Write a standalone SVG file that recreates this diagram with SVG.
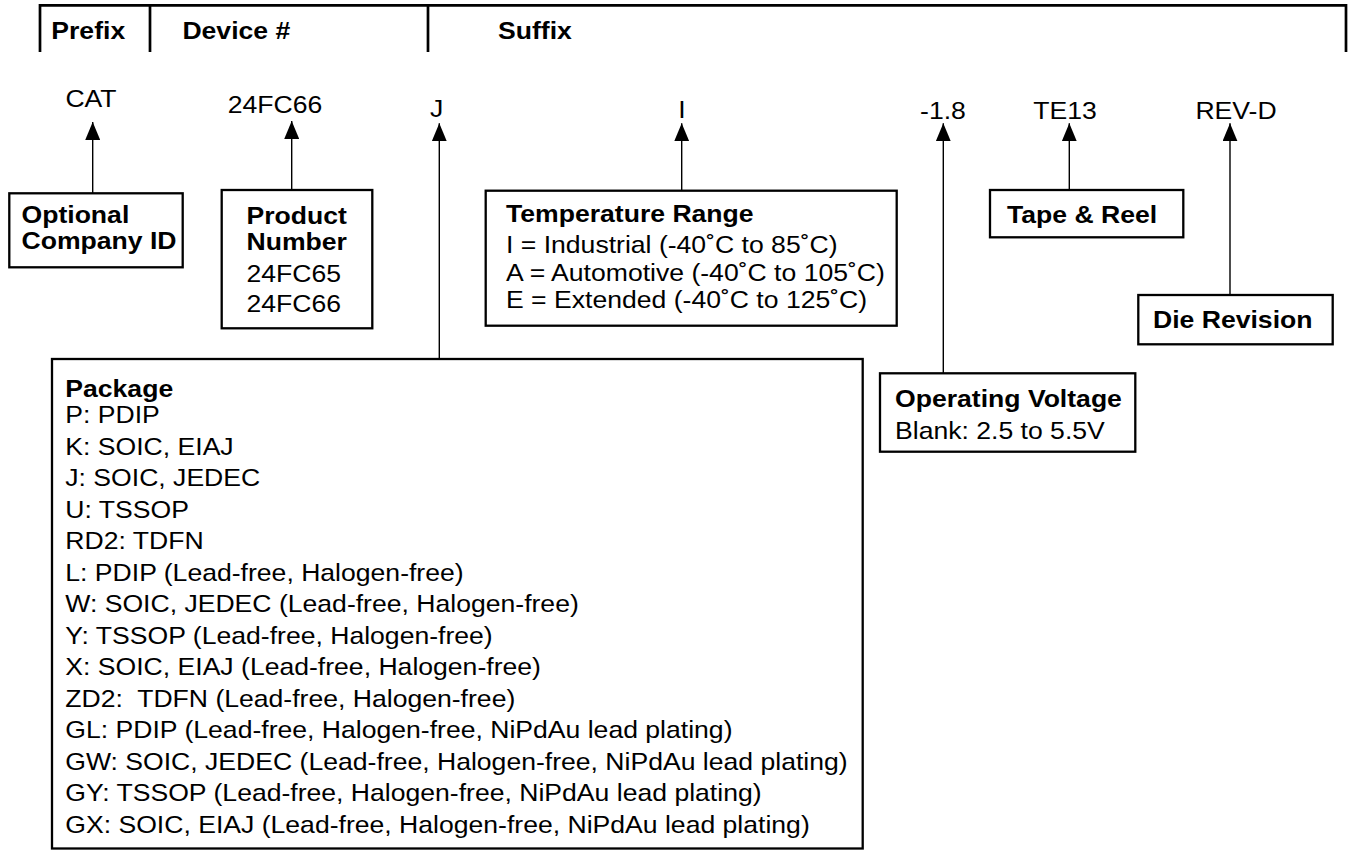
<svg xmlns="http://www.w3.org/2000/svg" width="1351" height="850" viewBox="0 0 1351 850">
<defs>
<style>
.t{font-family:"Liberation Sans",Arial,Helvetica,sans-serif;font-size:24px;fill:#000}
.b{font-weight:bold}
.m{text-anchor:middle}
.box{fill:#fff;stroke:#000;stroke-width:2.3}
.hdr{fill:none;stroke:#000;stroke-width:2.7}
.conn{stroke:#000;stroke-width:1.4;fill:none;marker-end:url(#ah)}
</style>
<marker id="ah" viewBox="0 0 18 15" refX="18" refY="7.5" markerWidth="18" markerHeight="15" markerUnits="userSpaceOnUse" orient="auto">
<path d="M0,0 L18,7.5 L0,15 z" fill="#000"/>
</marker>
</defs>
<rect width="1351" height="850" fill="#fff"/>

<g id="header">
<path class="hdr" d="M40,52 V5.3 H1346 V52 M150,5.3 V52 M428,5.3 V52"/>
<text class="t b" transform="translate(51.3,0) scale(1.108,1)" y="39.5">Prefix</text>
<text class="t b" transform="translate(182.4,0) scale(1.108,1)" y="39.5">Device #</text>
<text class="t b" transform="translate(498,0) scale(1.108,1)" y="39.5">Suffix</text>
</g>

<g id="values">
<text class="t m" transform="translate(91,0) scale(1.108,1)" y="106.7">CAT</text>
<text class="t m" transform="translate(275,0) scale(1.108,1)" y="112.7">24FC66</text>
<text class="t m" transform="translate(436.7,0) scale(1.108,1)" y="116.7">J</text>
<text class="t m" transform="translate(682,0) scale(1.108,1)" y="118.3">I</text>
<text class="t m" transform="translate(943,0) scale(1.108,1)" y="119.3">-1.8</text>
<text class="t m" transform="translate(1065,0) scale(1.108,1)" y="119.3">TE13</text>
<text class="t m" transform="translate(1236,0) scale(1.108,1)" y="119.3">REV-D</text>
</g>

<g id="connectors">
<line class="conn" x1="92.7" y1="193.3" x2="92.7" y2="122"/>
<line class="conn" x1="291.7" y1="190" x2="291.7" y2="121"/>
<line class="conn" x1="439.3" y1="359" x2="439.3" y2="123.3"/>
<line class="conn" x1="681.7" y1="190.7" x2="681.7" y2="123.3"/>
<line class="conn" x1="943.3" y1="373.3" x2="943.3" y2="123.3"/>
<line class="conn" x1="1069.3" y1="190" x2="1069.3" y2="123.3"/>
<line class="conn" x1="1230" y1="295" x2="1230" y2="123.3"/>
</g>

<g id="company-id">
<rect class="box" x="9.3" y="193.3" width="173.4" height="74"/>
<g transform="translate(21.5,0) scale(1.108,1)">
<text class="t b" y="222.7">Optional</text>
<text class="t b" y="249.3">Company ID</text>
</g>
</g>

<g id="product-number">
<rect class="box" x="221.7" y="190" width="150.6" height="138.3"/>
<g transform="translate(246.5,0) scale(1.108,1)">
<text class="t b" y="224">Product</text>
<text class="t b" y="250.5">Number</text>
<text class="t" y="282.5">24FC65</text>
<text class="t" y="312.5">24FC66</text>
</g>
</g>

<g id="temperature-range">
<rect class="box" x="485.7" y="190.7" width="411" height="135"/>
<g transform="translate(506,0) scale(1.108,1)">
<text class="t b" y="221.7">Temperature Range</text>
<text class="t" y="253.3">I = Industrial (-40˚C to 85˚C)</text>
<text class="t" y="280.7">A = Automotive (-40˚C to 105˚C)</text>
<text class="t" y="308.3">E = Extended (-40˚C to 125˚C)</text>
</g>
</g>

<g id="tape-reel">
<rect class="box" x="990" y="190" width="193.3" height="47.3"/>
<text class="t b" transform="translate(1007,0) scale(1.108,1)" y="223.3">Tape &amp; Reel</text>
</g>

<g id="die-revision">
<rect class="box" x="1138.3" y="295" width="194.4" height="49.3"/>
<text class="t b" transform="translate(1153,0) scale(1.108,1)" y="328.3">Die Revision</text>
</g>

<g id="operating-voltage">
<rect class="box" x="880" y="373.3" width="255.3" height="78.4"/>
<g transform="translate(895,0) scale(1.108,1)">
<text class="t b" y="406.7">Operating Voltage</text>
<text class="t" y="439.3">Blank: 2.5 to 5.5V</text>
</g>
</g>

<g id="package">
<rect class="box" x="52" y="359" width="810.7" height="489.5"/>
<g transform="translate(65.3,0) scale(1.108,1)">
<text class="t b" y="397">Package</text>
<text class="t" y="423.3">P: PDIP</text>
<text class="t" y="455">K: SOIC, EIAJ</text>
<text class="t" y="486.5">J: SOIC, JEDEC</text>
<text class="t" y="518">U: TSSOP</text>
<text class="t" y="549.5">RD2: TDFN</text>
<text class="t" y="581">L: PDIP (Lead-free, Halogen-free)</text>
<text class="t" y="612.5">W: SOIC, JEDEC (Lead-free, Halogen-free)</text>
<text class="t" y="644">Y: TSSOP (Lead-free, Halogen-free)</text>
<text class="t" y="675.5">X: SOIC, EIAJ (Lead-free, Halogen-free)</text>
<text class="t" y="707" xml:space="preserve">ZD2:  TDFN (Lead-free, Halogen-free)</text>
<text class="t" y="738.5">GL: PDIP (Lead-free, Halogen-free, NiPdAu lead plating)</text>
<text class="t" y="770">GW: SOIC, JEDEC (Lead-free, Halogen-free, NiPdAu lead plating)</text>
<text class="t" y="801.5">GY: TSSOP (Lead-free, Halogen-free, NiPdAu lead plating)</text>
<text class="t" y="833">GX: SOIC, EIAJ (Lead-free, Halogen-free, NiPdAu lead plating)</text>
</g>
</g>
</svg>
